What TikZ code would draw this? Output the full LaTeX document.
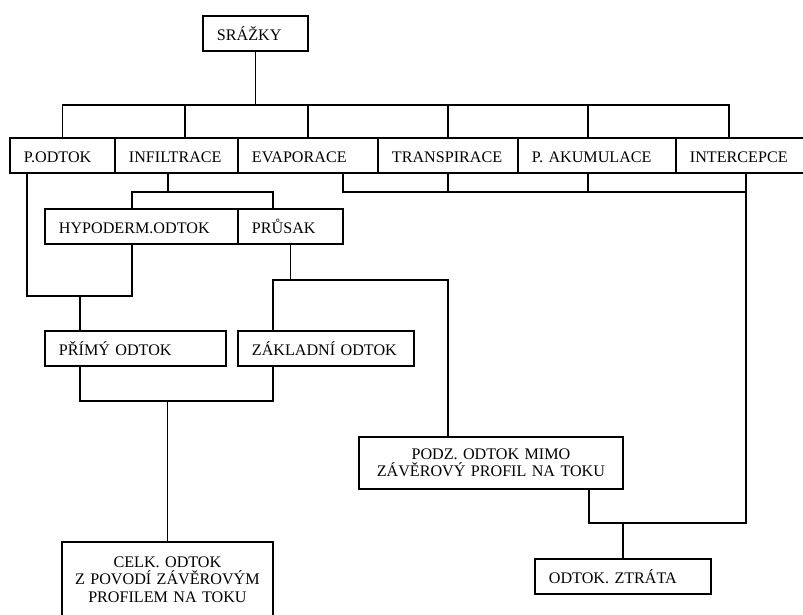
\documentclass[tikz,border=0pt]{standalone}
\usepackage{fontspec}
\setmainfont{Liberation Serif}

\tikzstyle{box}=[draw,line width=1.4pt,anchor=north west,inner xsep=10.5pt,inner ysep=0pt,minimum height=26.25pt,text height=11pt,text depth=0.2pt,align=left,font=\fontsize{12.1}{13}\selectfont]
\tikzstyle{wide box}=[draw,line width=1.4pt,anchor=north west,inner xsep=5pt,inner ysep=0pt,align=center,font=\fontsize{12.1}{13}\selectfont]
\tikzstyle{link}=[draw,line width=1.4pt]

\begin{document}
\begin{tikzpicture}[x=0.75pt,y=-0.75pt]
    \useasboundingbox (0,0) rectangle (803,614);

     % boxes with one line of text
     \foreach \pos/\w/\name/\txt in {{(202,15)/57.75pt/srazky/SRÁŽKY},
        {(9,137)/57.75pt/podtok/P.ODTOK}, {(114,137)/71.25pt/infiltrace/INFILTRACE},
        {(237,137)/84pt/evaporace/EVAPORACE}, {(377,137)/84pt/transpirace/TRANSPIRACE},
        {(517,137)/97.5pt/akumulace/P. AKUMULACE}, {(675,137)/76.5pt/intercepce/INTERCEPCE},
        {(44,208)/123.75pt/hypoderm/HYPODERM.ODTOK}, {(237,208)/57.75pt/prusak/PRŮSAK},
        {(44,330)/114.75pt/primy/PŘÍMÝ ODTOK}, {(237,330)/111pt/zakladni/ZÁKLADNÍ ODTOK},
        {(534,558)/111pt/ztrata/ODTOK. ZTRÁTA}}
     \node[box,text width=\w] (\name) at \pos {\mbox{\txt}};

     \node[wide box,text width=188pt,minimum height=39pt] (podz) at (358,436)
        {PODZ. ODTOK MIMO\\ZÁVĚROVÝ PROFIL NA TOKU};
     \node[wide box,text width=148.25pt,minimum height=56.25pt] (celk) at (61,541)
        {CELK. ODTOK\\Z POVODÍ ZÁVĚROVÝM\\PROFILEM NA TOKU};

     % rain splits into the first row
     \path[link] (srazky.south) -- ++(0,53) coordinate (bus);
     \foreach \name/\dx in {podtok/0, infiltrace/8.5, evaporace/0,
        transpirace/0, akumulace/-9, intercepce/-12}
     \path[link] (bus) -| ([shift={(\dx,0)}]\name.north);

     % infiltration
     \path[link] ([shift={(-8.5,0)}]infiltrace.south) -- ++(0,18) coordinate (m2);
     \path[link] (m2) -| ([shift={(-9.5,0)}]hypoderm.north);
     \path[link] (m2) -| ([shift={(-17.5,0)}]prusak.north);

     % direct runoff
     \path[link] ([shift={(-55.5,0)}]primy.north) -- ++(0,-34) coordinate (m1);
     \path[link] ([shift={(-35.5,0)}]podtok.south) |- (m1);
     \path[link] ([shift={(-9.5,0)}]hypoderm.south) |- (m1);

     % percolation
     \path[link] (prusak.south) -- ++(0,35) coordinate (m3);
     \path[link] (m3) -| ([shift={(-53,0)}]zakladni.north);
     \path[link] (m3) -| ([shift={(-43,0)}]podz.north);

     % total runoff
     \path[link] (celk.north) -- ++(0,-140) coordinate (m4);
     \path[link] ([shift={(-55.5,0)}]primy.south) |- (m4);
     \path[link] ([shift={(-53,0)}]zakladni.south) |- (m4);

     % losses
     \path[link] ([shift={(35,0)}]evaporace.south) |- ([shift={(5,18)}]intercepce.south);
     \path[link] (transpirace.south) -- ++(0,18);
     \path[link] ([shift={(-9,0)}]akumulace.south) -- ++(0,18);
     \path[link] (ztrata.north) -- ++(0,-35) coordinate (m5);
     \path[link] ([shift={(5,0)}]intercepce.south) |- (m5);
     \path[link] ([shift={(-35,0)}]podz.south east) |- (m5);

  \end{tikzpicture}
\end{document}
